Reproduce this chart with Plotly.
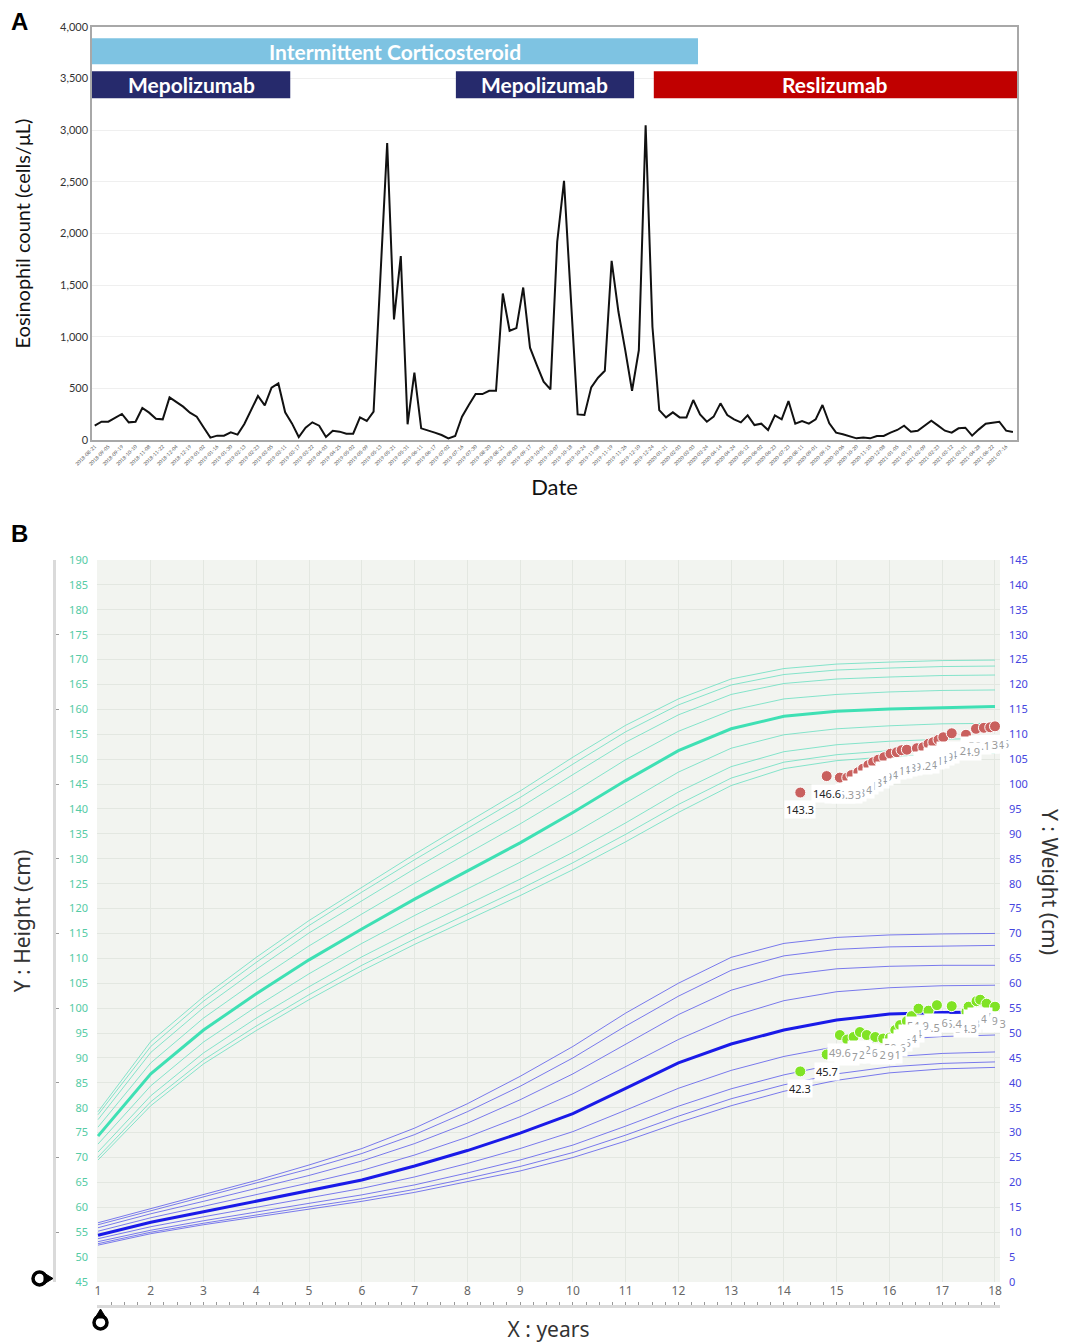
import plotly.graph_objects as go

# ---------------- Panel A data ----------------
eos_counts = [139, 177, 177, 216, 252, 171, 177, 310, 265, 206, 200, 413, 371, 323, 265, 226, 123, 23, 42, 42,
              74, 52, 155, 290, 426, 335, 506, 548, 268, 161, 29, 119, 171, 139, 29, 90, 81, 61, 61, 219,
              184, 274, 1570, 2877, 1168, 1781, 152, 652, 113, 94, 71, 48, 16, 39, 226, 339, 445, 445, 477, 477,
              1419, 1058, 1084, 1477, 894, 726, 565, 490, 1919, 2510, 1379, 248, 242, 510, 603, 671, 1735, 1242, 871, 477,
              871, 3048, 1097, 290, 219, 268, 219, 219, 387, 248, 177, 226, 355, 242, 200, 171, 239, 145, 158, 97,
              239, 200, 377, 158, 184, 158, 200, 339, 161, 71, 55, 32, 16, 23, 16, 39, 39, 71, 97, 139,
              81, 90, 139, 187, 139, 90, 71, 113, 119, 42, 103, 158, 168, 177, 90, 77]

date_labels = ["2018-08-21", "2018-09-05", "2018-09-19", "2018-10-10", "2018-11-08", "2018-11-22", "2018-12-04",
               "2018-12-19", "2019-01-02", "2019-01-16", "2019-01-30", "2019-02-13", "2019-02-23", "2019-03-05",
               "2019-03-11", "2019-03-17", "2019-03-22", "2019-04-03", "2019-04-25", "2019-05-02", "2019-05-09",
               "2019-05-13", "2019-05-21", "2019-05-31", "2019-06-11", "2019-06-17", "2019-07-02", "2019-07-16",
               "2019-07-30", "2019-08-20", "2019-08-21", "2019-09-03", "2019-09-17", "2019-10-01", "2019-10-07",
               "2019-10-18", "2019-10-24", "2019-11-08", "2019-11-19", "2019-11-26", "2019-12-10", "2019-12-24",
               "2020-01-21", "2020-02-03", "2020-03-03", "2020-03-24", "2020-04-14", "2020-04-24", "2020-05-12",
               "2020-06-02", "2020-06-23", "2020-07-23", "2020-08-11", "2020-09-01", "2020-09-15", "2020-10-06",
               "2020-10-20", "2020-11-10", "2020-12-08", "2021-01-05", "2021-01-19", "2021-02-09", "2021-02-23",
               "2021-03-12", "2021-03-31", "2021-04-28", "2021-06-22", "2021-07-16"]

treat_names = ["Intermittent Corticosteroid", "Mepolizumab", "Mepolizumab", "Reslizumab"]
treat_start = [-0.4, -0.4, 53.1, 82.2]
treat_end = [88.7, 28.75, 79.3, 135.6]
treat_low = [3639, 3310, 3310, 3310]
treat_high = [3890, 3571, 3571, 3571]
treat_colors = ["#7EC3E2", "#262A6C", "#262A6C", "#C00000"]

# ---------------- Panel B data ----------------
ages = list(range(1, 19))
percentiles = [3, 5, 10, 25, 50, 75, 90, 95, 97]

h_p3 = [69.5, 80.4, 88.8, 95.5, 101.7, 107.5, 112.8, 117.7, 122.6, 127.8, 133.4, 139.3, 144.7, 148.1, 149.7, 150.5, 151.0, 151.2]
h_p5 = [70.1, 81.2, 89.6, 96.4, 102.7, 108.6, 113.9, 118.9, 123.9, 129.2, 134.9, 140.9, 146.2, 149.4, 150.9, 151.7, 152.1, 152.3]
h_p10 = [71.1, 82.4, 91.0, 98.0, 104.3, 110.3, 115.7, 120.8, 125.9, 131.3, 137.2, 143.4, 148.5, 151.5, 152.9, 153.6, 154.0, 154.2]
h_p25 = [72.7, 84.4, 93.2, 100.3, 106.9, 113.0, 118.6, 124.0, 129.3, 135.0, 141.2, 147.4, 152.2, 154.9, 156.1, 156.7, 157.1, 157.2]
h_p50 = [74.3, 86.8, 95.6, 102.9, 109.7, 115.9, 121.9, 127.6, 133.2, 139.3, 145.7, 151.7, 156.1, 158.6, 159.6, 160.1, 160.4, 160.6]
h_p75 = [76.1, 89.0, 98.0, 105.5, 112.5, 118.9, 125.1, 131.0, 137.0, 143.3, 149.9, 155.6, 159.8, 162.1, 163.0, 163.5, 163.8, 163.9]
h_p90 = [77.6, 91.1, 100.1, 107.8, 115.1, 121.6, 128.0, 134.2, 140.3, 146.9, 153.4, 158.9, 163.0, 165.2, 166.1, 166.5, 166.8, 166.9]
h_p95 = [78.6, 92.3, 101.4, 109.2, 116.6, 123.3, 129.8, 136.1, 142.3, 149.0, 155.5, 160.9, 164.9, 167.0, 167.9, 168.3, 168.6, 168.7]
h_p97 = [79.2, 93.3, 102.3, 110.2, 117.6, 124.3, 130.9, 137.3, 143.6, 150.4, 156.8, 162.1, 166.1, 168.2, 169.1, 169.5, 169.8, 169.9]

w_p3 = [7.4, 9.7, 11.5, 13.1, 14.6, 16.2, 18.0, 20.1, 22.3, 25.0, 28.3, 32.0, 35.4, 38.3, 40.5, 42.0, 42.8, 43.1]
w_p5 = [7.7, 10.0, 11.8, 13.5, 15.1, 16.7, 18.6, 20.8, 23.2, 26.0, 29.5, 33.3, 36.8, 39.6, 41.8, 43.2, 43.9, 44.2]
w_p10 = [8.1, 10.4, 12.3, 14.1, 15.8, 17.5, 19.5, 21.9, 24.5, 27.5, 31.3, 35.3, 38.8, 41.6, 43.8, 45.2, 45.9, 46.2]
w_p25 = [8.7, 11.1, 13.1, 15.0, 16.9, 18.8, 21.1, 23.8, 26.8, 30.2, 34.5, 38.9, 42.5, 45.3, 47.3, 48.6, 49.3, 49.6]
w_p50 = [9.4, 12.0, 14.1, 16.2, 18.3, 20.5, 23.3, 26.4, 29.9, 33.8, 38.9, 44.0, 47.8, 50.6, 52.6, 53.8, 54.1, 54.2]
w_p75 = [10.2, 12.9, 15.2, 17.5, 19.9, 22.4, 25.5, 29.1, 33.2, 37.8, 43.2, 48.7, 53.3, 56.5, 58.3, 59.1, 59.5, 59.6]
w_p90 = [10.9, 13.7, 16.2, 18.8, 21.4, 24.3, 27.8, 31.9, 36.6, 41.8, 47.8, 53.7, 58.6, 61.6, 62.9, 63.4, 63.6, 63.6]
w_p95 = [11.5, 14.3, 17.0, 19.8, 22.7, 25.8, 29.6, 34.2, 39.3, 45.0, 51.4, 57.4, 62.6, 65.5, 66.8, 67.3, 67.5, 67.6]
w_p97 = [11.9, 14.7, 17.5, 20.4, 23.5, 26.8, 30.9, 35.8, 41.3, 47.3, 54.0, 60.0, 65.2, 68.0, 69.2, 69.7, 69.9, 70.0]

height_curves = [h_p3, h_p5, h_p10, h_p25, h_p50, h_p75, h_p90, h_p95, h_p97]
weight_curves = [w_p3, w_p5, w_p10, w_p25, w_p50, w_p75, w_p90, w_p95, w_p97]

pt_h_age = [14.31, 14.81, 15.06, 15.20, 15.28, 15.41, 15.50, 15.60, 15.69, 15.79, 15.90, 16.02, 16.14, 16.23,
            16.33, 16.52, 16.64, 16.74, 16.83, 16.93, 17.02, 17.18, 17.45, 17.64, 17.79, 17.91, 18.0]
pt_h = [143.3, 146.6, 146.3, 146.3, 146.8, 147.4, 148.1, 148.8, 149.4, 149.9, 150.4, 151.1, 151.4, 151.8,
        151.9, 152.2, 152.4, 153.1, 153.4, 153.9, 154.4, 155.2, 154.9, 156.1, 156.3, 156.4, 156.6]
pt_w_age = [14.31, 14.81, 15.06, 15.20, 15.32, 15.44, 15.57, 15.73, 15.88, 16.01, 16.11, 16.20, 16.33, 16.42,
            16.55, 16.74, 16.90, 17.18, 17.46, 17.50, 17.65, 17.72, 17.84, 18.0]
pt_w = [42.3, 45.7, 49.6, 48.7, 49.2, 50.2, 49.6, 49.2, 48.9, 49.1, 50.6, 51.6, 52.4, 53.4,
        54.9, 54.5, 55.6, 55.4, 54.3, 55.3, 56.4, 56.7, 55.9, 55.3]

# the page body adds an 8 px margin; size the figure to the visible area
OFF = 8
W, H = 1067 - OFF, 1343 - OFF
def px(x): return (x - OFF) / W
def py(y): return 1 - (y - OFF) / H

FA = "Lato, Open Sans, sans-serif"
FB = "Noto Sans, Open Sans, sans-serif"

fig = go.Figure()

# ---- Panel A ----
idx = list(range(len(eos_counts)))
fig.add_trace(go.Scatter(x=idx, y=eos_counts, mode="lines", line=dict(color="#111111", width=2),
                         xaxis="x", yaxis="y", showlegend=False, hoverinfo="skip"))

for name, s, e, lo, hi, c in zip(treat_names, treat_start, treat_end, treat_low, treat_high, treat_colors):
    fig.add_shape(type="rect", xref="x", yref="y", x0=s, x1=e, y0=lo, y1=hi,
                  fillcolor=c, line=dict(width=0), layer="above")
    fig.add_annotation(xref="x", yref="y", x=(s + e) / 2, y=(lo + hi) / 2, text="<b>%s</b>" % name,
                       showarrow=False, font=dict(family=FA, size=21, color="white"))

# ---- Panel B ----
for p, hc in zip(percentiles, height_curves):
    med = p == 50
    fig.add_trace(go.Scatter(x=ages, y=hc, mode="lines", xaxis="x2", yaxis="y2",
                             line=dict(color="#3FE0B4" if med else "rgba(95,222,190,0.75)", width=3 if med else 1),
                             showlegend=False, hoverinfo="skip"))
for p, wc in zip(percentiles, weight_curves):
    med = p == 50
    fig.add_trace(go.Scatter(x=ages, y=wc, mode="lines", xaxis="x2", yaxis="y3",
                             line=dict(color="#1A1AE8" if med else "rgba(90,90,235,0.8)", width=3 if med else 1),
                             showlegend=False, hoverinfo="skip"))

fig.add_trace(go.Scatter(x=pt_h_age, y=pt_h, mode="markers", xaxis="x2", yaxis="y2",
                         marker=dict(color="#C9605E", size=11, line=dict(color="white", width=1)),
                         showlegend=False, hoverinfo="skip"))
fig.add_trace(go.Scatter(x=pt_w_age, y=pt_w, mode="markers", xaxis="x2", yaxis="y3",
                         marker=dict(color="#80E324", size=11, line=dict(color="white", width=1)),
                         showlegend=False, hoverinfo="skip"))

# point labels: later ones first so the earliest stay legible on top
for k in range(len(pt_h) - 1, -1, -1):
    col = "#222" if k < 2 else "#9A9A9A"
    fig.add_annotation(xref="x2", yref="y2", x=pt_h_age[k], y=pt_h[k], yshift=-17, text="%.1f" % pt_h[k],
                       showarrow=False, bgcolor="white", font=dict(family=FB, size=11, color=col))
for k in range(len(pt_w) - 1, -1, -1):
    col = "#222" if k < 2 else "#9A9A9A"
    fig.add_annotation(xref="x2", yref="y3", x=pt_w_age[k], y=pt_w[k], yshift=-17, text="%.1f" % pt_w[k],
                       showarrow=False, bgcolor="white", font=dict(family=FB, size=11, color=col))

# ruler helper traces
fig.add_trace(go.Scatter(x=[None], y=[None], xaxis="x3", yaxis="y2", showlegend=False))
fig.add_trace(go.Scatter(x=[None], y=[None], xaxis="x2", yaxis="y4", showlegend=False))

# labels
fig.add_annotation(xref="paper", yref="paper", x=px(19), y=py(22), text="<b>A</b>", showarrow=False,
                   xanchor="center", yanchor="middle",
                   font=dict(family="Liberation Sans, Arial", size=24, color="black"))
fig.add_annotation(xref="paper", yref="paper", x=px(19), y=py(533), text="<b>B</b>", showarrow=False,
                   xanchor="center", yanchor="middle",
                   font=dict(family="Liberation Sans, Arial", size=24, color="black"))
fig.add_annotation(xref="paper", yref="paper", x=px(1050), y=py(882), text="Y : Weight (cm)", textangle=90,
                   showarrow=False, xanchor="center", yanchor="middle",
                   font=dict(family=FB, size=21, color="#333"))

# slider handle icons (decorative)
handles = [
    dict(type="circle", xref="paper", yref="paper", x0=px(33), x1=px(46), y0=py(1285), y1=py(1272),
         line=dict(color="black", width=3.5), fillcolor="white"),
    dict(type="path", xref="paper", yref="paper",
         path="M %f %f L %f %f L %f %f Z" % (px(44), py(1273), px(53), py(1278.5), px(44), py(1284)),
         fillcolor="black", line=dict(color="black", width=1)),
    dict(type="circle", xref="paper", yref="paper", x0=px(94), x1=px(107), y0=py(1329), y1=py(1316),
         line=dict(color="black", width=3.5), fillcolor="white"),
    dict(type="path", xref="paper", yref="paper",
         path="M %f %f L %f %f L %f %f Z" % (px(95), py(1318), px(100.5), py(1309), px(106), py(1318)),
         fillcolor="black", line=dict(color="black", width=1)),
]

fig.update_layout(
    width=W, height=H, margin=dict(l=0, r=0, t=0, b=0, autoexpand=False),
    paper_bgcolor="white", plot_bgcolor="white",
    xaxis=dict(domain=[px(92), px(1017)], range=[-0.4, 135.6], tickmode="array",
               tickvals=idx[::2][:len(date_labels)], ticktext=date_labels, tickangle=-45,
               tickfont=dict(family=FA, size=5, color="#555"), showgrid=False, zeroline=False,
               showline=True, mirror=True, linecolor="#A8A8A8", linewidth=1.5, ticks="",
               title=dict(text="Date", font=dict(family=FA, size=22, color="#111"), standoff=14),
               anchor="y", automargin=False),
    yaxis=dict(domain=[py(440), py(27)], range=[0, 4000], dtick=500, tickformat=",",
               tickfont=dict(family=FA, size=11, color="#333"), gridcolor="#EFEFEF", zeroline=False,
               showline=True, mirror=True, linecolor="#A8A8A8", linewidth=1.5,
               title=dict(text="Eosinophil count (cells/μL)", font=dict(family=FA, size=20, color="#111"), standoff=24),
               anchor="x", automargin=False),
    xaxis2=dict(domain=[px(97), px(1000)], range=[0.981, 18.095], dtick=1, tick0=1,
                tickfont=dict(family=FB, size=12, color="#666"), gridcolor="#E3E7E1", zeroline=False,
                showline=False, ticks="", anchor="y2", automargin=False,
                title=dict(text="X : years", font=dict(family=FB, size=21, color="#333"), standoff=24)),
    yaxis2=dict(domain=[py(1282), py(560)], range=[45, 190], dtick=5, tick0=45,
                tickfont=dict(family=FB, size=11, color="#55CBA5"), gridcolor="#E3E7E1", zeroline=False,
                showline=False, ticks="", anchor="x2", automargin=False, ticklabelstandoff=8,
                title=dict(text="Y : Height (cm)", font=dict(family=FB, size=21, color="#333"), standoff=34)),
    yaxis3=dict(range=[0, 145], dtick=5, tick0=0, overlaying="y2", side="right", anchor="x2",
                tickfont=dict(family=FB, size=11, color="#4545E0"), showgrid=False, zeroline=False, ticks="",
                automargin=False, ticklabelstandoff=8),
    xaxis3=dict(range=[0.981, 18.095], overlaying="x2", anchor="free", position=py(1306),
                dtick=0.25, tick0=1, ticks="inside", ticklen=3, tickcolor="#999", showticklabels=False,
                showgrid=False, zeroline=False, showline=True, linecolor="#DADADA", linewidth=3, automargin=False),
    yaxis4=dict(range=[45, 190], overlaying="y2", anchor="free", position=px(54), side="left",
                dtick=15, tick0=190, ticks="inside", ticklen=3, tickcolor="#999", showticklabels=False,
                showgrid=False, zeroline=False, showline=True, linecolor="#DADADA", linewidth=3, automargin=False),
)
fig.update_layout(shapes=list(fig.layout.shapes) + [
    dict(type="rect", xref="x2 domain", yref="y2 domain", x0=0, x1=1, y0=0, y1=1,
         fillcolor="#F2F4F0", line=dict(width=0), layer="below")] + handles)

fig.write_html("out.html")
